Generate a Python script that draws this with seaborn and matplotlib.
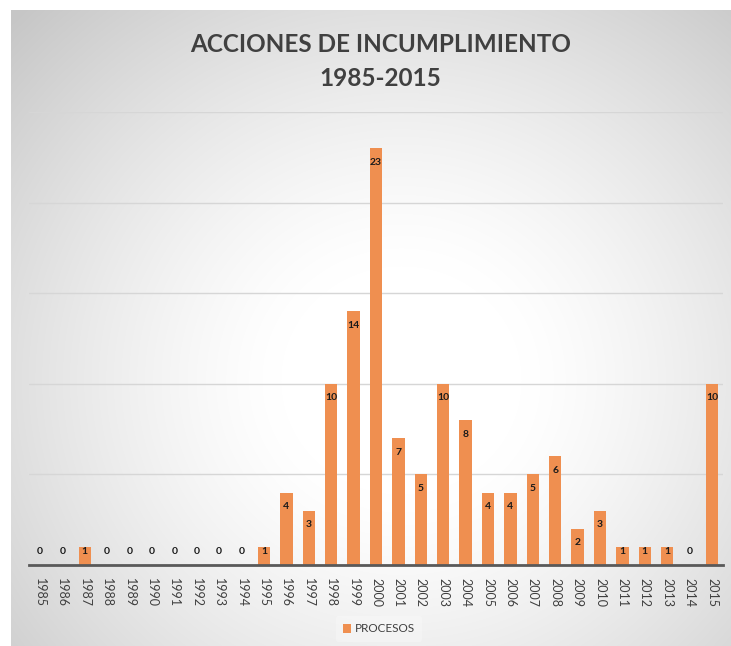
import numpy as np
import pandas as pd
import matplotlib
matplotlib.use("Agg")
import matplotlib.pyplot as plt
import matplotlib.patches as mpatches
import seaborn as sns

years = [str(y) for y in range(1985, 2016)]
procesos = [0, 0, 1, 0, 0, 0, 0, 0, 0, 0, 1, 4, 3, 10, 14, 23, 7, 5, 10, 8,
            4, 4, 5, 6, 2, 3, 1, 1, 1, 0, 10]
series_name = "PROCESOS"
title_text = "ACCIONES DE INCUMPLIMIENTO\n1985-2015"

df = pd.DataFrame({"year": years, "value": procesos})

sns.set_theme(style="white")
plt.rcParams["font.family"] = ["Lato", "DejaVu Sans"]

W, H = 731, 646
fig = plt.figure(figsize=(W / 100, H / 100), dpi=100)
fig.patch.set_facecolor("#cdcdcd")

# background panel with radial gradient (pixel image), slightly oversized
bw, bh = W + 20, H + 20
yy, xx = np.mgrid[0:bh, 0:bw]
cx, cy = 390, 370
d = np.sqrt((xx - cx) ** 2 + ((yy - cy) / 0.95) ** 2)
t = np.clip((d - 120) / 420, 0, 1)
g = 1.0 - 0.22 * t ** 1.3
rgb = np.dstack([g, g, g])
fig.figimage(rgb, xo=11, yo=-30, origin="upper", zorder=0)
# white outer margin at top and left
fig.add_artist(mpatches.Rectangle((0, 0), 11 / W, 1, transform=fig.transFigure,
                                  facecolor="white", edgecolor="none", zorder=0.5))
fig.add_artist(mpatches.Rectangle((0, 1 - 10 / H), 1, 10 / H, transform=fig.transFigure,
                                  facecolor="white", edgecolor="none", zorder=0.5))

ax = fig.add_axes([28.8 / W, 1 - 565 / H, (723.2 - 28.8) / W, (565 - 112) / H])
ax.set_zorder(1)
ax.patch.set_alpha(0)

bar_color = "#EF8F50"
sns.barplot(data=df, x="year", y="value", color=bar_color, width=0.55,
            saturation=1, ax=ax, label=series_name, zorder=3, linewidth=0)

ax.set_ylim(0, 25)
ax.set_xlim(-0.5, len(years) - 0.5)
ax.set_yticks([0, 5, 10, 15, 20, 25])
ax.yaxis.grid(True, color="#d6d6d6", linewidth=1)
ax.set_axisbelow(True)
ax.tick_params(axis="y", left=False, labelleft=False)
ax.tick_params(axis="x", bottom=False, labelsize=9, labelcolor="#404040", pad=3)
for lbl in ax.get_xticklabels():
    lbl.set_rotation(270)
    lbl.set_va("top")
    lbl.set_ha("center")
for s in ["top", "right", "left"]:
    ax.spines[s].set_visible(False)
ax.spines["bottom"].set_color("#595959")
ax.spines["bottom"].set_linewidth(2)
ax.spines["bottom"].set_zorder(6)
ax.set_xlabel("")
ax.set_ylabel("")

for i, v in enumerate(procesos):
    ax.text(i, max(v - 0.78, 0.75), str(v), ha="center", va="center",
            fontsize=7.5, fontweight="bold", color="#1a1a1a", zorder=5)

fig.text(0.52, 0.905, title_text, ha="center", va="center", fontsize=17.5,
         fontweight="bold", color="#404040", linespacing=1.55)

leg = ax.legend(loc="center", bbox_to_anchor=(379 / W, 1 - 629 / H),
                bbox_transform=fig.transFigure, frameon=True, fontsize=8.5,
                handlelength=0.7, handleheight=0.7, handletextpad=0.3,
                borderpad=0.6)
leg.get_frame().set_facecolor("white")
leg.get_frame().set_alpha(0.25)
leg.get_frame().set_edgecolor("none")
for txt in leg.get_texts():
    txt.set_color("#404040")

fig.savefig("out.png", dpi=100)
